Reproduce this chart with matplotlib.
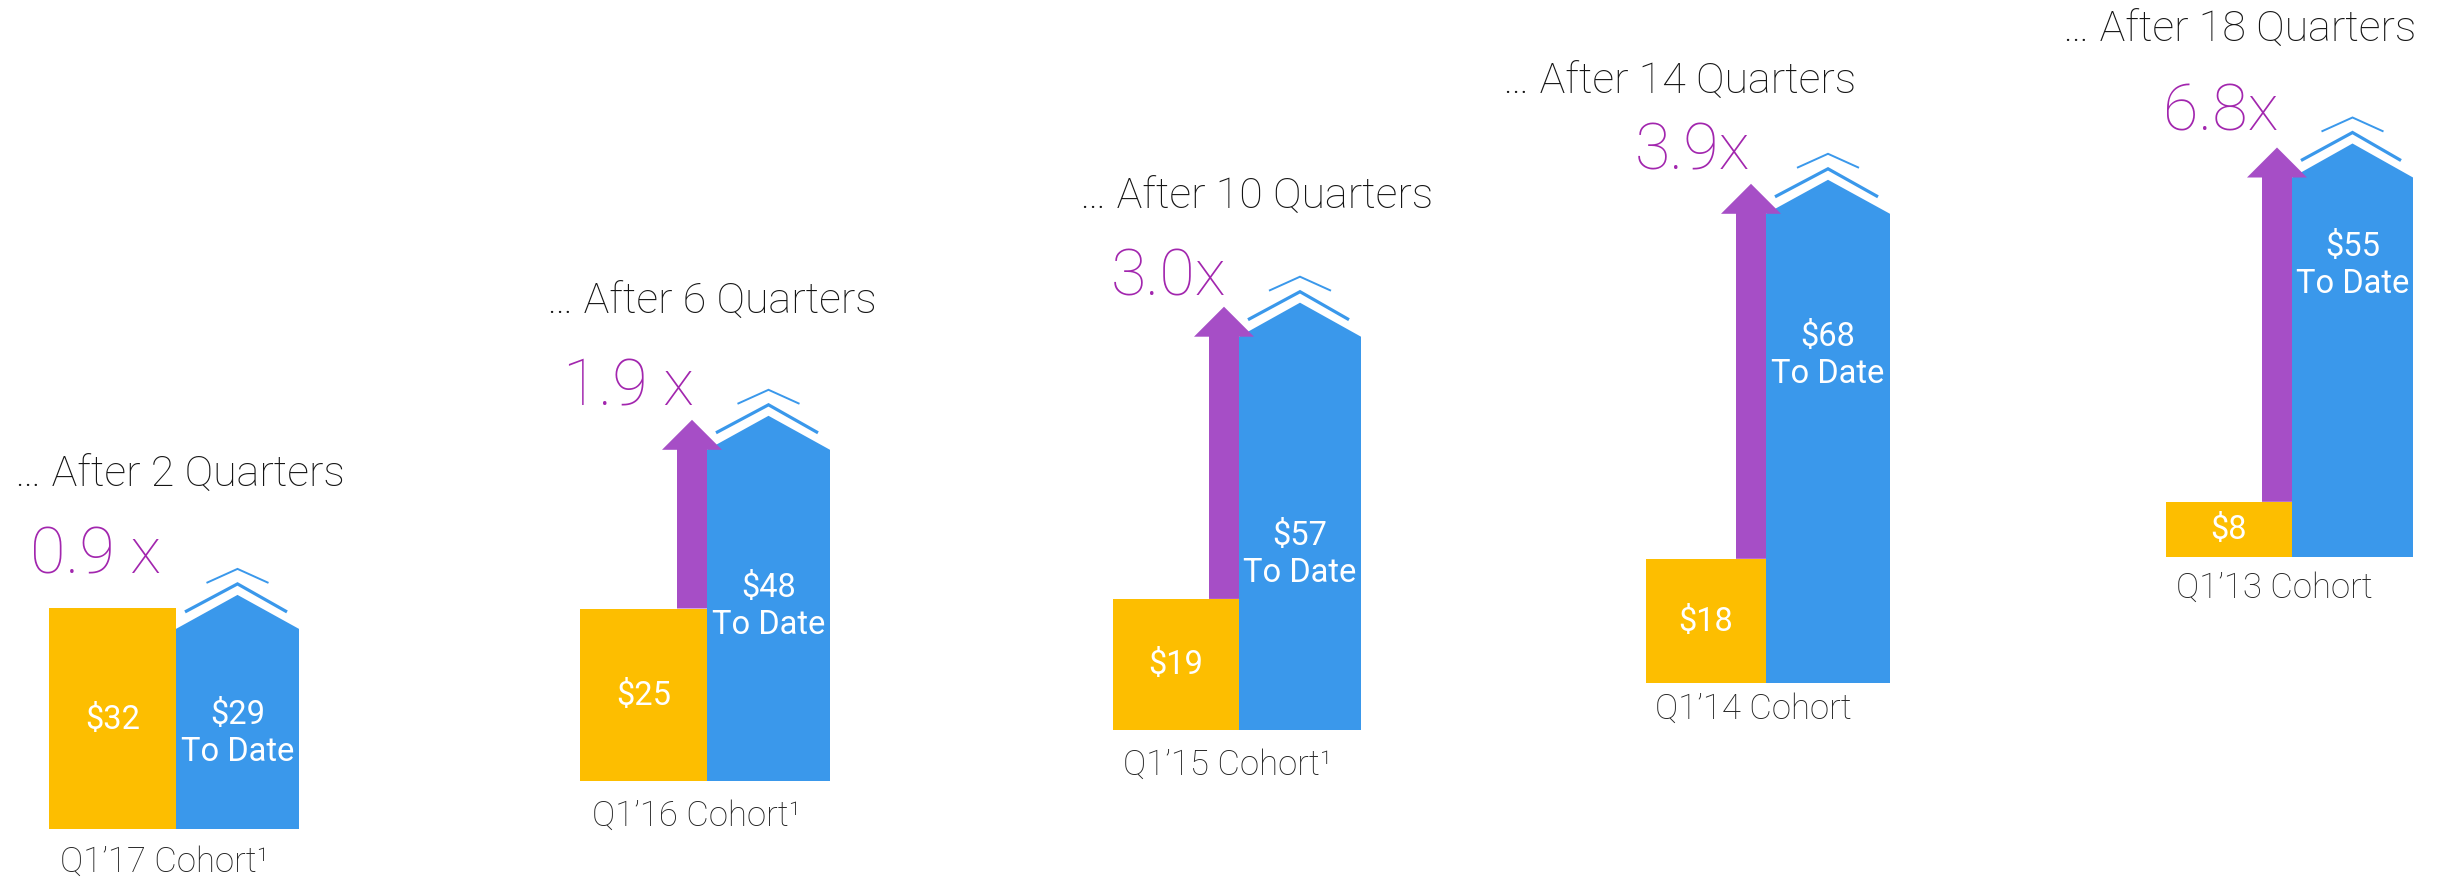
import matplotlib
matplotlib.use("Agg")
import matplotlib.pyplot as plt
from matplotlib.patches import Polygon

plt.rcParams['font.family'] = ['Roboto', 'DejaVu Sans']
plt.rcParams['font.weight'] = 'light'

# ---------------- data ----------------
cohorts = ["Q1\u201917 Cohort", "Q1\u201916 Cohort", "Q1\u201915 Cohort",
           "Q1\u201914 Cohort", "Q1\u201913 Cohort"]
footnote = [True, True, True, False, False]
quarters = [2, 6, 10, 14, 18]
initial = [32, 25, 19, 18, 8]
to_date = [29, 48, 57, 68, 55]
multiples = ["0.9 x", "1.9 x", "3.0x", "3.9x", "6.8x"]

# ---------------- layout (pixels) ----------------
W, H = 2446, 878
K = 6.9                      # pixels per $ unit
yl = [49, 580, 1113, 1646, 2166]      # yellow bar left
split = [176, 707, 1239, 1766, 2292]  # yellow right / blue left
br = [299, 830, 1361, 1890, 2413]     # blue right
base = [830, 782, 731, 684, 558]      # baseline y (px from top)
title_pos = [(15, 487), (547, 314), (1080, 209), (1503, 94), (2063, 42)]
mult_pos = [(30, 574), (563, 405), (1111, 296), (1635, 169), (2163, 130)]
cohort_pos = [(60, 872), (592, 826), (1123, 775), (1655, 719), (2176, 598)]
blue_lbl_frac = [0.48, 0.53, 0.45, 0.70, 0.77]

ROOF = 34
TIP = 30

YEL = "#FDBE00"
BLUE = "#3A98EB"
PURP = "#A64EC6"
PURP_TXT = "#A226AE"
DARK = "#151515"

fig = plt.figure(figsize=(W / 100, H / 100), dpi=100)
ax = fig.add_axes([0, 0, 1, 1])
ax.set_xlim(0, W)
ax.set_ylim(0, H / K)
ax.axis('off')


def py(ypx):
    return (H - ypx) / K


for i in range(5):
    b = py(base[i])
    vy = initial[i]
    vb = to_date[i]
    cx = (split[i] + br[i]) / 2
    roof = ROOF / K
    # yellow bar
    ax.bar(yl[i], vy, width=split[i] - yl[i], bottom=b, align='edge',
           color=YEL, linewidth=0, zorder=2)
    # blue "house" bar
    top = b + vb
    ax.add_patch(Polygon([(split[i], b), (split[i], top), (cx, top + roof),
                          (br[i], top), (br[i], b)], closed=True,
                         facecolor=BLUE, edgecolor='none', zorder=2))
    # chevrons
    lx0 = split[i] + 9
    lx1 = br[i] - 12
    ax.plot([lx0, cx, lx1], [top + 17 / K, top + roof + 11 / K, top + 17 / K],
            color=BLUE, lw=2.3, solid_joinstyle='miter', solid_capstyle='butt', zorder=3)
    ax.plot([cx - 31, cx, cx + 31],
            [top + roof + 12 / K, top + roof + 26 / K, top + roof + 12 / K],
            color=BLUE, lw=1.4, solid_joinstyle='miter', solid_capstyle='butt', zorder=3)
    # purple growth arrow
    if vb > vy:
        sx1 = split[i]
        sx0 = sx1 - 30
        ac = (sx0 + sx1) / 2
        y0 = b + vy
        ax.add_patch(Polygon([(sx0, y0), (sx1, y0), (sx1, top), (ac + 30, top),
                              (ac, top + TIP / K), (ac - 30, top), (sx0, top)],
                             closed=True, facecolor=PURP, edgecolor='none', zorder=4))
    # labels in bars
    ax.text((yl[i] + split[i]) / 2, b + vy / 2, f"${vy}", color='white',
            fontsize=23.5, fontweight='normal', ha='center', va='center', zorder=5)
    ax.text(cx, b + vb * blue_lbl_frac[i], f"${vb}\nTo Date", color='white',
            fontsize=23.5, fontweight='normal', ha='center', va='center',
            linespacing=1.2, zorder=5)
    # title
    tx, tyy = title_pos[i]
    ax.text(tx, py(tyy), f"\u2026 After {quarters[i]} Quarters", color=DARK,
            fontsize=31, ha='left', va='baseline')
    # multiple
    mx, myy = mult_pos[i]
    ax.text(mx, py(myy), multiples[i], color=PURP_TXT, fontsize=46.5,
            ha='left', va='baseline')
    # cohort label
    cxp, cyp = cohort_pos[i]
    ax.text(cxp, py(cyp), cohorts[i] + ("\u00b9" if footnote[i] else ""),
            color="#222222", fontsize=25, ha='left', va='baseline')

fig.savefig("out.png", dpi=100)
